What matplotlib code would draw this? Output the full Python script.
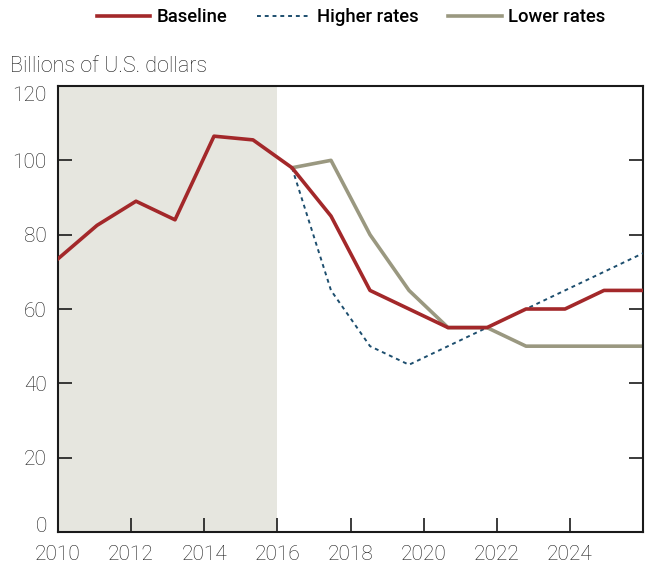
import numpy as np
import matplotlib.pyplot as plt
from matplotlib.lines import Line2D

plt.rcParams['font.family'] = ['Roboto', 'DejaVu Sans']

# annual values, 2010-2025
years = list(range(2010, 2026))
baseline = [73.5, 82.5, 89, 84, 106.5, 105.5, 98, 85, 65, 60, 55, 55, 60, 60, 65, 65]
# scenarios start in 2016
higher_rates = [98, 65, 50, 45, 50, 55, 60, 65, 70, 75]
lower_rates = [98, 100, 80, 65, 55, 55, 50, 50, 50, 50]
xticks = [2010, 2012, 2014, 2016, 2018, 2020, 2022, 2024]

# points are spread evenly across the 2010-2026 axis
x = np.linspace(2010, 2026, len(years))
x_scen = x[6:]

dark = '#1a1a1a'

fig = plt.figure(figsize=(6.46, 5.64), dpi=100)
ax = fig.add_axes([58 / 646, 1 - 532 / 564, 585 / 646, 446 / 564])

ax.axvspan(2010, 2016, color='#e6e6df', lw=0, zorder=0)
ax.plot(x_scen, lower_rates, color='#9a9880', lw=2.6, zorder=2)
ax.plot(x_scen, higher_rates, color='#1d4e6e', lw=1.4, ls=(0, (2, 2)), zorder=3)
ax.plot(x, baseline, color='#a3282a', lw=2.6, zorder=4)

ax.set_xlim(2010, 2026)
ax.set_ylim(0, 120)
ax.set_xticks(xticks)
ax.set_yticks(range(0, 121, 20))
ax.tick_params(direction='in', length=10, width=1.2, labelsize=15, colors=dark,
               right=True)
ax.tick_params(axis='x', pad=9)
ax.tick_params(axis='y', pad=8)
for lab in ax.get_xticklabels() + ax.get_yticklabels():
    lab.set_fontweight('light')
# keep the end labels inside the axis span
ylabs = ax.get_yticklabels()
ylabs[0].set_va('baseline')
ylabs[-1].set_va('top')
for s in ax.spines.values():
    s.set_linewidth(1.5)
    s.set_color(dark)

fig.text(10 / 646, 1 - 67 / 564, 'Billions of U.S. dollars', fontsize=15.5,
         fontweight='light', va='center', color=dark)

handles = [
    Line2D([], [], color='#a3282a', lw=2.6),
    Line2D([], [], color='#1d4e6e', lw=1.4, ls=(0, (2, 2))),
    Line2D([], [], color='#9a9880', lw=2.6),
]
fig.legend(handles, ['Baseline', 'Higher rates', 'Lower rates'], loc='center',
           bbox_to_anchor=(351 / 646, 1 - 17 / 564), ncol=3, frameon=False,
           prop={'size': 13.3, 'weight': 'medium'}, handlelength=2.9,
           handletextpad=0.35, columnspacing=1.6)

fig.savefig('out.png', dpi=100)
